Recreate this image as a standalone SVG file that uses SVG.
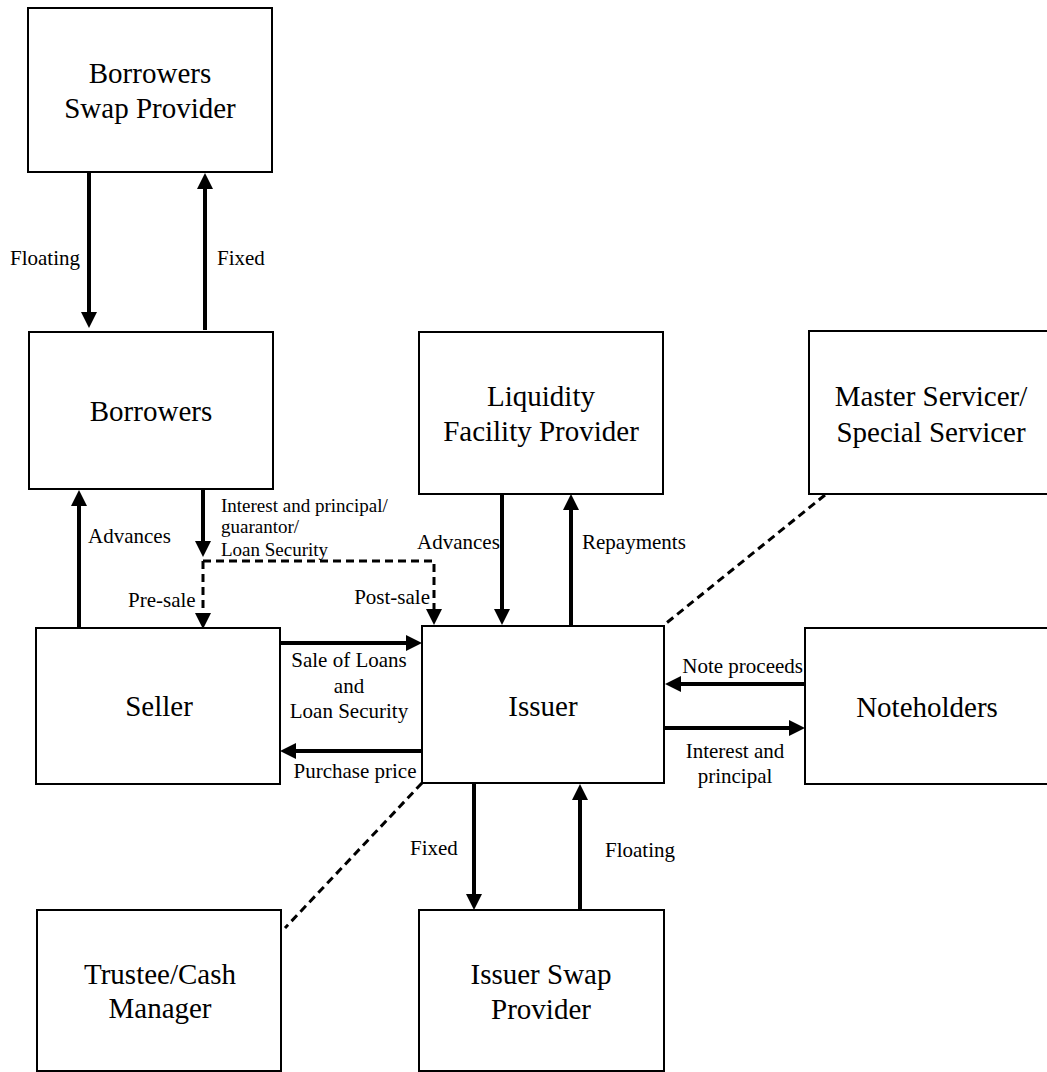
<svg xmlns="http://www.w3.org/2000/svg" width="1047" height="1072" viewBox="0 0 1047 1072">
<style>
.box{fill:#fff;stroke:#000;stroke-width:2}
.bt{font-family:"Liberation Serif","Times New Roman",serif;font-size:29px;fill:#000;text-anchor:middle}
.lb{font-family:"Liberation Serif","Times New Roman",serif;font-size:21px;fill:#000}
.sm{font-family:"Liberation Serif","Times New Roman",serif;font-size:19px;fill:#000}
.ar{stroke:#000;stroke-width:4;fill:none;marker-end:url(#ah)}
.da{stroke:#000;stroke-width:3;fill:none;stroke-dasharray:8 5}
</style>
<defs>
<marker id="ah" viewBox="0 0 16 16" refX="6" refY="8" markerWidth="16" markerHeight="16" markerUnits="userSpaceOnUse" orient="auto">
<path d="M0,0 L16,8 L0,16 z" fill="#000"/>
</marker>
</defs>
<g id="connectors">
<line class="ar" x1="89" y1="172" x2="89" y2="318"/>
<line class="ar" x1="205" y1="330" x2="205" y2="183"/>
<line class="ar" x1="79" y1="628" x2="79" y2="500"/>
<line class="ar" x1="203" y1="489" x2="203" y2="547"/>
<path class="da" d="M203,561 V619" marker-end="url(#ah)"/>
<path class="da" d="M203,561 H434 V615" marker-end="url(#ah)"/>
<line class="ar" x1="280" y1="643" x2="412" y2="643"/>
<line class="ar" x1="422" y1="751" x2="290" y2="751"/>
<line class="ar" x1="502" y1="494" x2="502" y2="615"/>
<line class="ar" x1="571" y1="626" x2="571" y2="504"/>
<line class="ar" x1="805" y1="684" x2="675" y2="684"/>
<line class="ar" x1="665" y1="728" x2="795" y2="728"/>
<line class="ar" x1="474" y1="783" x2="474" y2="900"/>
<line class="ar" x1="580" y1="910" x2="580" y2="794"/>
<line class="da" x1="825" y1="495" x2="664" y2="625"/>
<line class="da" x1="422" y1="783" x2="285" y2="928"/>
<text class="lb" x="10" y="265">Floating</text>
<text class="lb" x="217" y="265">Fixed</text>
<text class="lb" x="88" y="543">Advances</text>
<text class="sm" x="221" y="512">Interest and principal/</text>
<text class="sm" x="221" y="533">guarantor/</text>
<text class="sm" x="221" y="556">Loan Security</text>
<text class="lb" x="128" y="607">Pre-sale</text>
<text class="lb" x="430" y="604" text-anchor="end">Post-sale</text>
<text class="lb" x="417" y="549">Advances</text>
<text class="lb" x="582" y="549">Repayments</text>
<text class="lb" x="349" y="667" text-anchor="middle">Sale of Loans</text>
<text class="lb" x="349" y="693" text-anchor="middle">and</text>
<text class="lb" x="349" y="718" text-anchor="middle">Loan Security</text>
<text class="lb" x="355" y="778" text-anchor="middle">Purchase price</text>
<text class="lb" x="803" y="673" text-anchor="end">Note proceeds</text>
<text class="lb" x="735" y="758" text-anchor="middle">Interest and</text>
<text class="lb" x="735" y="783" text-anchor="middle">principal</text>
<text class="lb" x="410" y="855">Fixed</text>
<text class="lb" x="605" y="857">Floating</text>
</g>
<g id="borrowers-swap-provider">
<rect class="box" x="28" y="8" width="244" height="164"/>
<text class="bt" x="150" y="83">Borrowers</text>
<text class="bt" x="150" y="118">Swap Provider</text>
</g>
<g id="borrowers">
<rect class="box" x="29" y="332" width="244" height="157"/>
<text class="bt" x="151" y="421">Borrowers</text>
</g>
<g id="liquidity-facility-provider">
<rect class="box" x="419" y="332" width="244" height="162"/>
<text class="bt" x="541" y="406">Liquidity</text>
<text class="bt" x="541" y="441">Facility Provider</text>
</g>
<g id="master-servicer">
<rect class="box" x="809" y="331" width="242" height="163"/>
<text class="bt" x="931" y="406">Master Servicer/</text>
<text class="bt" x="931" y="442">Special Servicer</text>
</g>
<g id="seller">
<rect class="box" x="36" y="628" width="244" height="156"/>
<text class="bt" x="159" y="716">Seller</text>
</g>
<g id="issuer">
<rect class="box" x="422" y="626" width="242" height="157"/>
<text class="bt" x="543" y="716">Issuer</text>
</g>
<g id="noteholders">
<rect class="box" x="805" y="628" width="246" height="156"/>
<text class="bt" x="927" y="717">Noteholders</text>
</g>
<g id="trustee-cash-manager">
<rect class="box" x="37" y="910" width="244" height="161"/>
<text class="bt" x="160" y="984">Trustee/Cash</text>
<text class="bt" x="160" y="1018">Manager</text>
</g>
<g id="issuer-swap-provider">
<rect class="box" x="419" y="910" width="245" height="161"/>
<text class="bt" x="541" y="984">Issuer Swap</text>
<text class="bt" x="541" y="1019">Provider</text>
</g>
</svg>
